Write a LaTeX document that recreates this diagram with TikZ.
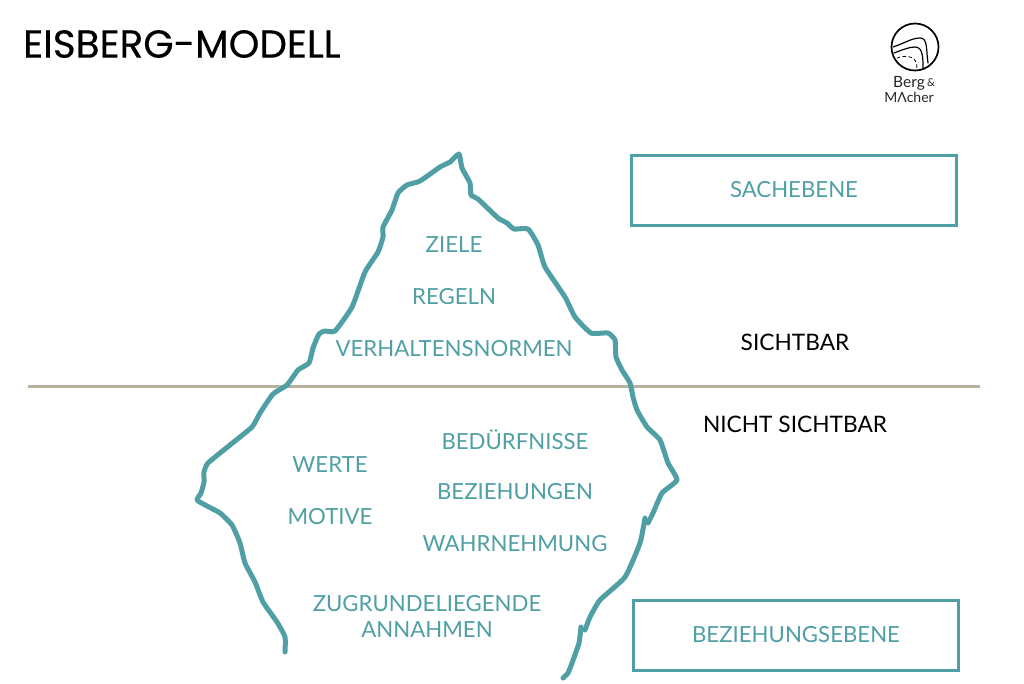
\documentclass[tikz,border=0pt]{standalone}
\usepackage{fontspec}
\setmainfont{Lato}
\newfontfamily\titlefont[FakeBold=0.4]{Poppins}
\usetikzlibrary{positioning}
\definecolor{eisteal}{HTML}{4F9FA4}
\definecolor{eisline}{HTML}{B8B1A1}
\begin{document}
\begin{tikzpicture}[x=1pt, y=-1pt, line join=round, line cap=round,
  label/.style={text=eisteal, font=\fontsize{22.2}{26}\selectfont, align=center, inner sep=0pt},
  side/.style={text=black, font=\fontsize{22.7}{26}\selectfont, inner sep=0pt},
  level/.style={draw=eisteal, line width=3pt, line cap=butt, line join=miter, minimum width=325pt, minimum height=70pt,
    text=eisteal, font=\fontsize{22.2}{26}\selectfont, inner sep=0pt},
  berg/.style={draw=eisteal, line width=5pt},
  logo/.style={line width=1.2pt, black},
  logotext/.style={inner sep=0pt, text=black!85, font=\fontsize{15.5}{17}\selectfont}]
\useasboundingbox (0,0) rectangle (1024,683);

\node [anchor=west, inner sep=0pt, font=\titlefont\fontsize{39}{44}\selectfont] (title) at (23,44) {EISBERG-MODELL};

\coordinate (wl) at (28,386);
\coordinate (wr) at (980,386);
\draw [eisline, line width=3pt, line cap=butt] (wl) -- (wr);

\draw [berg] plot [smooth, tension=0.3] coordinates {
  (285,652) (285,637) (277,622) (263,602) (255,582) (245,563) (240,543) (232,525)
  (220,513) (207,506) (197,500) (201,493) (204,482) (204,472) (208,463) (230,445)
  (252,427) (260,413) (273,394) (287,385) (298,370) (309,363) (313,348) (319,334)
  (325,331) (335,331) (352,307) (365,272) (378,252) (383,237) (383,227) (392,210)
  (398,193) (407,185) (420,181) (440,167) (450,162) (459,154) (462,168) (470,183)
  (471,195) (478,199) (498,218) (507,223) (514,229) (528,229) (538,245) (545,267)
  (565,297) (575,317) (591,333) (608,333) (615,340) (616,357) (622,370) (630,383)
  (633,397) (637,410) (647,427) (660,440) (668,463) (677,480) (662,493) (653,513)
  (648,523)};
\draw [berg] plot [smooth, tension=0.3] coordinates {
  (645,518) (640,543) (625,577) (600,600) (590,617) (585,630)};
\draw [berg] plot [smooth, tension=0.3] coordinates {
  (581,627) (579,643) (572,663) (568,673) (563,678)};

\node [label] (ziele) at (454,245) {ZIELE};
\node [label, below=52pt of ziele.center, anchor=center] (regeln) {REGELN};
\node [label, below=52pt of regeln.center, anchor=center] (normen) {VERHALTENSNORMEN};

\node [label] (werte) at (330,465) {WERTE};
\node [label, below=52pt of werte.center, anchor=center] (motive) {MOTIVE};
\node [label] (beduerfnisse) at (515,440) {BEDÜRFNISSE};
\node [label, below=52pt of beduerfnisse.center, anchor=center] (beziehungen) {BEZIEHUNGEN};
\node [label, below=52pt of beziehungen.center, anchor=center] (wahrnehmung) {WAHRNEHMUNG};
\node [label] (annahmen) at (427,616) {ZUGRUNDELIEGENDE\\[0pt]ANNAHMEN};

\node [level] (sache) at (794,190) {SACHEBENE};
\node [level] (beziehung) at (796,635) {BEZIEHUNGSEBENE};
\node [side] (sichtbar) at (795,342) {SICHTBAR};
\node [side] (nichtsichtbar) at (795,424) {NICHT SICHTBAR};

\draw [logo, line width=1.7pt] (915,47) circle (23.5);
\draw [logo] (893,47) .. controls (905,43) and (912,38) .. (920,38) .. controls (928,38) and (926,50) .. (928,63);
\draw [logo] (894,53) .. controls (902,50) and (909,47) .. (915,47) .. controls (923,47) and (923,58) .. (923,68);
\draw [logo, dashed, line width=0.8pt] (897,58) .. controls (902,56) and (906,56) .. (910,57) .. controls (915,58) and (917,62) .. (917,69);
\node [logotext] (berglogo) at (909,83) {Berg};
\node [logotext, right=2pt of berglogo, font=\fontsize{11}{13}\selectfont] (undlogo) {\&};
\node [logotext, below=14pt of berglogo.center, anchor=center, font=\fontsize{14}{16}\selectfont] (macherlogo) {MΛcher};
\end{tikzpicture}
\end{document}
